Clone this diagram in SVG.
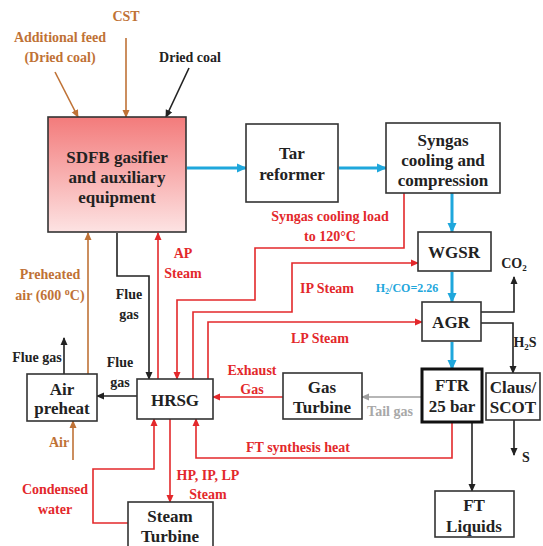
<svg xmlns="http://www.w3.org/2000/svg" width="543" height="546" viewBox="0 0 543 546">
<defs>
<linearGradient id="gpink" x1="0" y1="0" x2="0" y2="1">
<stop offset="0" stop-color="#f37b7b"/>
<stop offset="1" stop-color="#fde3e3"/>
</linearGradient>
<marker id="ak" markerWidth="8" markerHeight="8" refX="7" refY="4" orient="auto" markerUnits="userSpaceOnUse"><path d="M0,0.5 L8,4 L0,7.5 Z" fill="#222"/></marker>
<marker id="ar" markerWidth="8" markerHeight="8" refX="7" refY="4" orient="auto" markerUnits="userSpaceOnUse"><path d="M0,0.5 L8,4 L0,7.5 Z" fill="#e3282b"/></marker>
<marker id="ao" markerWidth="8" markerHeight="8" refX="7" refY="4" orient="auto" markerUnits="userSpaceOnUse"><path d="M0,0.5 L8,4 L0,7.5 Z" fill="#bf7236"/></marker>
<marker id="ag" markerWidth="8" markerHeight="8" refX="7" refY="4" orient="auto" markerUnits="userSpaceOnUse"><path d="M0,0.5 L8,4 L0,7.5 Z" fill="#9e9e9e"/></marker>
<marker id="ab" markerWidth="10" markerHeight="10" refX="9" refY="5" orient="auto" markerUnits="userSpaceOnUse"><path d="M0,0.5 L10,5 L0,9.5 Z" fill="#1fa7dc"/></marker>
</defs>
<style>
.box{fill:#fff;stroke:#333;stroke-width:1.6}
.bt{font-weight:bold;text-anchor:middle;font-size:17px;fill:#222}
.lt{font-weight:bold;text-anchor:middle;font-size:14px}
.k{fill:#222}.r{fill:#e3282b}.o{fill:#bf7236}.b{fill:#1fa7dc}.g{fill:#a8a8a8}
.ck{fill:none;stroke:#222;stroke-width:1.6;marker-end:url(#ak)}
.cr{fill:none;stroke:#e3282b;stroke-width:1.6;marker-end:url(#ar)}
.co{fill:none;stroke:#bf7236;stroke-width:1.6;marker-end:url(#ao)}
.cg{fill:none;stroke:#9e9e9e;stroke-width:1.6;marker-end:url(#ag)}
.cb{fill:none;stroke:#1fa7dc;stroke-width:3;marker-end:url(#ab)}
</style>

<g id="connectors">
<line class="co" x1="55" y1="72" x2="78" y2="117"/>
<line class="co" x1="126" y1="38" x2="126" y2="117"/>
<line class="ck" x1="189" y1="68" x2="166" y2="117"/>
<line class="cb" x1="187" y1="168" x2="246" y2="168"/>
<line class="cb" x1="339" y1="168" x2="386" y2="168"/>
<line class="cb" x1="452" y1="193" x2="452" y2="232"/>
<line class="cb" x1="452" y1="272" x2="452" y2="302"/>
<line class="cb" x1="452" y1="342" x2="452" y2="369"/>
<line class="co" x1="88" y1="374" x2="88" y2="233"/>
<line class="co" x1="73" y1="460" x2="73" y2="421"/>
<path class="ck" d="M117,233 V276 H149 V379"/>
<line class="ck" x1="64" y1="374" x2="64" y2="338"/>
<line class="ck" x1="137" y1="396" x2="97" y2="396"/>
<line class="cr" x1="158" y1="379" x2="158" y2="233"/>
<path class="cr" d="M404,193 V248 H255 V300 H177 V379"/>
<path class="cr" d="M193,379 V312 H292 V263 H418"/>
<path class="cr" d="M208,379 V322 H422"/>
<line class="cr" x1="283" y1="397" x2="213" y2="397"/>
<line class="cg" x1="422" y1="397" x2="362" y2="397"/>
<path class="cr" d="M452,423 V458 H196 V419"/>
<line class="cr" x1="170" y1="419" x2="170" y2="502"/>
<path class="cr" d="M128,523 H93 V469 H154 V419"/>
<line class="ck" x1="472" y1="423" x2="472" y2="491"/>
<line class="ck" x1="514" y1="420" x2="514" y2="455"/>
<path class="ck" d="M481,312 H514 V277"/>
<path class="ck" d="M481,323 H513 V373"/>
</g>

<g id="labels">
<text font-family="Liberation Serif, serif" class="lt o" x="126" y="21">CST</text>
<text font-family="Liberation Serif, serif" class="lt o" x="60" y="42">Additional feed</text>
<text font-family="Liberation Serif, serif" class="lt o" x="60" y="62">(Dried coal)</text>
<text font-family="Liberation Serif, serif" class="lt k" x="190" y="62">Dried coal</text>
<text font-family="Liberation Serif, serif" class="lt r" x="330" y="221">Syngas cooling load</text>
<text font-family="Liberation Serif, serif" class="lt r" x="330" y="241">to 120°C</text>
<text font-family="Liberation Serif, serif" class="lt r" x="327" y="293">IP Steam</text>
<text font-family="Liberation Serif, serif" class="lt b" x="407" y="292" style="font-size:12px">H<tspan font-size="8" dy="2">2</tspan><tspan dy="-2">/CO=2.26</tspan></text>
<text font-family="Liberation Serif, serif" class="lt r" x="320" y="343">LP Steam</text>
<text font-family="Liberation Serif, serif" class="lt r" x="183" y="258">AP</text>
<text font-family="Liberation Serif, serif" class="lt r" x="183" y="278">Steam</text>
<text font-family="Liberation Serif, serif" class="lt o" x="50" y="279">Preheated</text>
<text font-family="Liberation Serif, serif" class="lt o" x="50" y="300">air (600 <tspan font-size="10" dy="-5">o</tspan><tspan dy="5">C)</tspan></text>
<text font-family="Liberation Serif, serif" class="lt k" x="129" y="299">Flue</text>
<text font-family="Liberation Serif, serif" class="lt k" x="129" y="319">gas</text>
<text font-family="Liberation Serif, serif" class="lt k" x="37" y="362">Flue gas</text>
<text font-family="Liberation Serif, serif" class="lt k" x="120" y="367">Flue</text>
<text font-family="Liberation Serif, serif" class="lt k" x="120" y="387">gas</text>
<text font-family="Liberation Serif, serif" class="lt r" x="252" y="375">Exhaust</text>
<text font-family="Liberation Serif, serif" class="lt r" x="252" y="394">Gas</text>
<text font-family="Liberation Serif, serif" class="lt g" x="390" y="416">Tail gas</text>
<text font-family="Liberation Serif, serif" class="lt r" x="298" y="452">FT synthesis heat</text>
<text font-family="Liberation Serif, serif" class="lt o" x="59" y="447">Air</text>
<text font-family="Liberation Serif, serif" class="lt r" x="55" y="494">Condensed</text>
<text font-family="Liberation Serif, serif" class="lt r" x="55" y="514">water</text>
<text font-family="Liberation Serif, serif" class="lt r" x="208" y="480">HP, IP, LP</text>
<text font-family="Liberation Serif, serif" class="lt r" x="208" y="499">Steam</text>
<text font-family="Liberation Serif, serif" class="lt k" x="514" y="268">CO<tspan font-size="9" dy="3">2</tspan></text>
<text font-family="Liberation Serif, serif" class="lt k" x="525" y="347">H<tspan font-size="9" dy="3">2</tspan><tspan dy="-3">S</tspan></text>
<text font-family="Liberation Serif, serif" class="lt k" x="526" y="462">S</text>
</g>

<g id="gasifier">
<rect x="48" y="117" width="138" height="115" fill="url(#gpink)" stroke="#333" stroke-width="1.6"/>
<text font-family="Liberation Serif, serif" class="bt" x="117" y="163">SDFB gasifier</text>
<text font-family="Liberation Serif, serif" class="bt" x="117" y="183">and auxiliary</text>
<text font-family="Liberation Serif, serif" class="bt" x="117" y="203">equipment</text>
</g>
<g id="tar-reformer">
<rect class="box" x="246" y="124" width="92" height="78"/>
<text font-family="Liberation Serif, serif" class="bt" x="292" y="159">Tar</text>
<text font-family="Liberation Serif, serif" class="bt" x="292" y="180">reformer</text>
</g>
<g id="syngas-cooling">
<rect class="box" x="386" y="123" width="114" height="70"/>
<text font-family="Liberation Serif, serif" class="bt" x="443" y="146">Syngas</text>
<text font-family="Liberation Serif, serif" class="bt" x="443" y="166">cooling and</text>
<text font-family="Liberation Serif, serif" class="bt" x="443" y="186">compression</text>
</g>
<g id="wgsr">
<rect class="box" x="418" y="232" width="73" height="39"/>
<text font-family="Liberation Serif, serif" class="bt" x="454" y="258">WGSR</text>
</g>
<g id="agr">
<rect class="box" x="422" y="302" width="59" height="39"/>
<text font-family="Liberation Serif, serif" class="bt" x="451" y="328">AGR</text>
</g>
<g id="ftr">
<rect x="422" y="369" width="60" height="53" fill="#fff" stroke="#111" stroke-width="3"/>
<text font-family="Liberation Serif, serif" class="bt" x="452" y="391">FTR</text>
<text font-family="Liberation Serif, serif" class="bt" x="452" y="412">25 bar</text>
</g>
<g id="claus-scot">
<rect class="box" x="486" y="373" width="54" height="47"/>
<text font-family="Liberation Serif, serif" class="bt" x="513" y="393">Claus/</text>
<text font-family="Liberation Serif, serif" class="bt" x="513" y="413">SCOT</text>
</g>
<g id="gas-turbine">
<rect class="box" x="283" y="373" width="79" height="46"/>
<text font-family="Liberation Serif, serif" class="bt" x="322" y="393">Gas</text>
<text font-family="Liberation Serif, serif" class="bt" x="322" y="413">Turbine</text>
</g>
<g id="hrsg">
<rect class="box" x="137" y="379" width="76" height="40"/>
<text font-family="Liberation Serif, serif" class="bt" x="175" y="406">HRSG</text>
</g>
<g id="air-preheat">
<rect class="box" x="27" y="374" width="70" height="47"/>
<text font-family="Liberation Serif, serif" class="bt" x="62" y="395">Air</text>
<text font-family="Liberation Serif, serif" class="bt" x="62" y="414">preheat</text>
</g>
<g id="steam-turbine">
<rect class="box" x="128" y="502" width="85" height="50"/>
<text font-family="Liberation Serif, serif" class="bt" x="170" y="522">Steam</text>
<text font-family="Liberation Serif, serif" class="bt" x="170" y="542">Turbine</text>
</g>
<g id="ft-liquids">
<rect class="box" x="435" y="491" width="79" height="46"/>
<text font-family="Liberation Serif, serif" class="bt" x="474" y="511">FT</text>
<text font-family="Liberation Serif, serif" class="bt" x="474" y="532">Liquids</text>
</g>
</svg>
